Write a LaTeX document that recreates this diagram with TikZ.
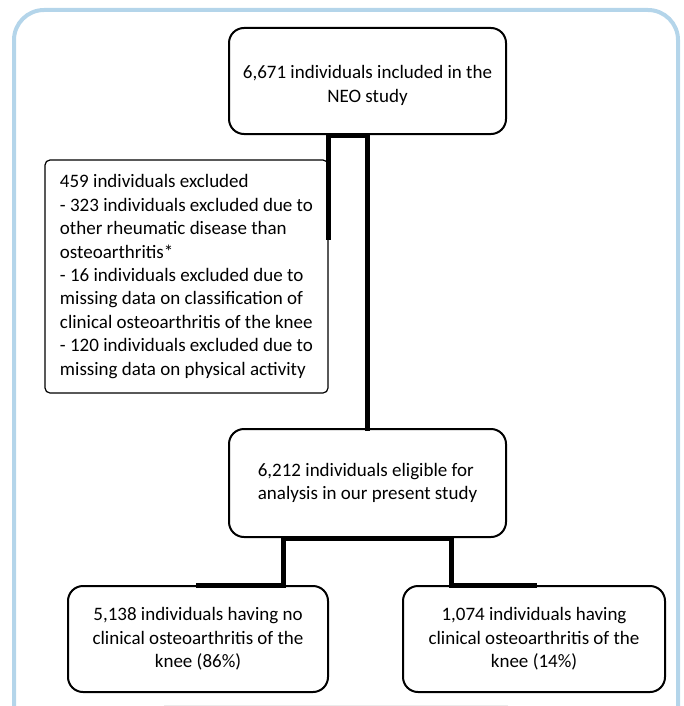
\documentclass[tikz,border=0pt]{standalone}
\usepackage{fontspec}
\setmainfont{Carlito}
\usetikzlibrary{calc}
\definecolor{frameblue}{RGB}{180,213,234}
\begin{document}
\begin{tikzpicture}[x=1pt, y=-1pt,
    box/.style={draw, line width=2pt, rounded corners=15pt, fill=white, inner sep=0pt},
    excbox/.style={draw, line width=1.2pt, rounded corners=5pt, fill=white, inner sep=0pt},
    link/.style={line width=5pt, line cap=rect},
    every node/.style={font=\fontsize{19}{23.4}\selectfont}]
    % Page size and the light blue frame
    \useasboundingbox (0,0) rectangle (684,706);
    \draw[frameblue, line width=4pt, rounded corners=30pt] (14,720) -- (14,10) -- (678,10) -- (678,720);
    \draw[black!8, line width=1pt] (164,705) -- (508,705);

    % Boxes
    \node[box, minimum width=277pt, minimum height=106pt, align=center] (neo) at (367.5,81)
        {\rule{0pt}{22pt}6,671 individuals included in the\\NEO study};
    \node[excbox, minimum width=283pt, minimum height=233pt, align=left] (excl) at (186.5,276.5)
        {459 individuals excluded\\
         - 323 individuals excluded due to\\
         other rheumatic disease than\\
         osteoarthritis*\\
         - 16 individuals excluded due to\\
         missing data on classification of\\
         clinical osteoarthritis of the knee\\
         - 120 individuals excluded due to\\
         missing data on physical activity};
    \node[box, minimum width=277pt, minimum height=108pt, align=left] (elig) at (367.5,483)
        {6,212 individuals eligible for\\analysis in our present study};
    \node[box, minimum width=260pt, minimum height=106pt, align=center] (noko) at (198,639)
        {5,138 individuals having no\\clinical osteoarthritis of the\\knee (86\%)};
    \node[box, minimum width=262pt, minimum height=106pt, align=center] (kneeoa) at (534,639)
        {1,074 individuals having\\clinical osteoarthritis of the\\knee (14\%)};

    % Thick links on top of the box borders
    \coordinate (stubend) at ($(excl.north east)+(0,78)$);
    \draw[link] (stubend) -- (stubend |- neo.south) -- (neo.south) -- (elig.north);
    \coordinate (splitL) at ($(elig.south)+(-84,0)$);
    \coordinate (splitR) at ($(elig.south)+(84,0)$);
    \draw[link] (noko.north) -- (noko.north -| splitL) -- (splitL) -- (splitR)
        -- (splitR |- kneeoa.north) -- (kneeoa.north);
\end{tikzpicture}
\end{document}
